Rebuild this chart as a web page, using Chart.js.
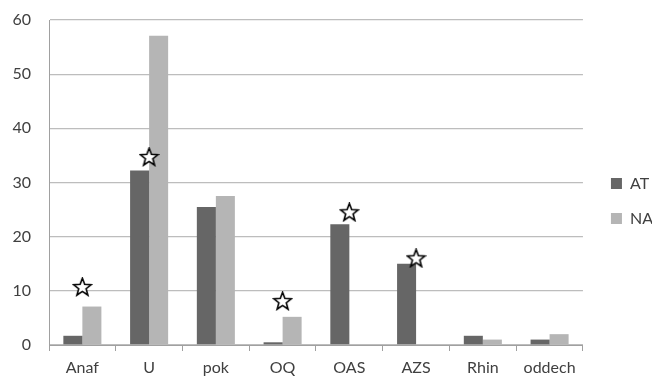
<!DOCTYPE html>
<html><head><meta charset="utf-8">
<script src="https://cdn.jsdelivr.net/npm/chart.js@4/dist/chart.umd.min.js"></script>
<style>html,body{margin:0;padding:0;background:#fff}#wrap{width:652px;height:385px}</style>
</head><body><div id="wrap"><canvas id="c" width="652" height="385"></canvas></div>
<script>
const categories = ["Anaf","U","pok","OQ","OAS","AZS","Rhin","oddech"];
const atValues = [1.7, 32.2, 25.5, 0.5, 22.3, 15.0, 1.7, 1.0];
const naValues = [7.1, 57.1, 27.5, 5.2, 0, 0, 1.0, 2.0];
const starValues = [10.7, 34.7, null, 8.1, 24.5, 16.0, null, null];
const seriesNames = ["AT","NA"];

function makeStar(){
  const c=document.createElement('canvas');
  c.width=21;c.height=20;
  const g=c.getContext('2d');
  const cx=10.5,cy=10.5,R=9.3,r=3.9;
  g.beginPath();
  for(let i=0;i<10;i++){
    const rad=i%2===0?R:r;
    const a=-Math.PI/2+i*Math.PI/5;
    const x=cx+rad*Math.cos(a),y=cy+rad*Math.sin(a);
    if(i===0)g.moveTo(x,y);else g.lineTo(x,y);
  }
  g.closePath();
  g.fillStyle='#fff';g.fill();
  g.lineWidth=1.6;g.strokeStyle='#000';g.lineJoin='miter';g.stroke();
  return c;
}
const starImg=makeStar();

const shiftLegend={id:'shiftLegend',afterLayout(chart){
  const L=chart.legend;
  if(L){L.left+=9;L.right+=9;L.top+=9;L.bottom+=9;}
}};

const font={family:"Lato, 'Liberation Sans', sans-serif", size:16};
new Chart(document.getElementById('c'),{
  type:'bar',
  data:{labels:categories,datasets:[
    {type:'line',label:'stars',data:starValues,showLine:false,pointStyle:starImg,pointRadius:9,order:0},
    {label:seriesNames[0],data:atValues,backgroundColor:'#666666',categoryPercentage:0.57,barPercentage:1.0,order:1},
    {label:seriesNames[1],data:naValues,backgroundColor:'#b5b5b5',categoryPercentage:0.57,barPercentage:1.0,order:2}
  ]},
  plugins:[shiftLegend],
  options:{
    responsive:false,animation:false,
    layout:{padding:{top:0,left:0,right:-2,bottom:0.8}},
    plugins:{
      tooltip:{enabled:false},
      legend:{position:'right',
        labels:{filter:(it)=>it.text!=='stars',boxWidth:11,boxHeight:11,padding:19,color:'#404040',font:font}
      }
    },
    scales:{
      x:{grid:{display:true,drawOnChartArea:false,drawTicks:true,tickLength:6,color:'#a0a0a0'},
         border:{display:true,color:'#a0a0a0'},
         ticks:{color:'#404040',font:font,padding:7,maxRotation:0}},
      y:{min:0,max:60,
         ticks:{stepSize:10,color:'#404040',font:font,padding:18},
         grid:{color:'#bdbdbd',lineWidth:1.3,drawTicks:false},
         border:{display:true,color:'#a0a0a0'},
         afterFit:(s)=>{s.width=49;s.paddingTop=20;s.paddingBottom=0;}}
    }
  }
});
</script></body></html>
